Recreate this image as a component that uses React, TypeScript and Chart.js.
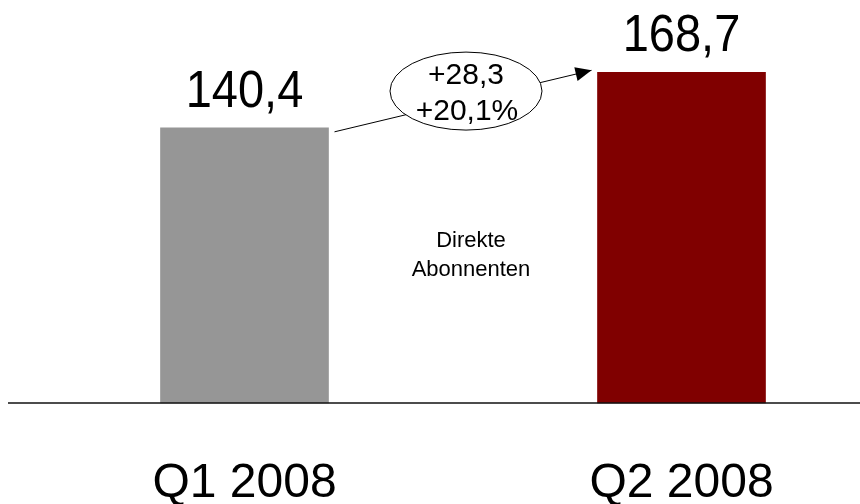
import React, { useEffect, useRef } from "react";
import { Chart, registerables } from "chart.js";

Chart.register(...registerables);

// Direkte Abonnenten, in Tausend
const quarters = ["Q1 2008", "Q2 2008"];
const subscribers = [140.4, 168.7];
const valueLabels = ["140,4", "168,7"];
const changeLabels = ["+28,3", "+20,1%"];
const segmentLabel = ["Direkte", "Abonnenten"];
const barColors = ["#969696", "#800000"];

const FONT = '"Liberation Sans", Arial, Helvetica, sans-serif';

const overlayPlugin = {
  id: "overlay",
  afterDatasetsDraw(chart: any) {
    const ctx = chart.ctx as CanvasRenderingContext2D;
    const meta = chart.getDatasetMeta(0);
    const yScale = chart.scales.y;
    const zeroY = yScale.getPixelForValue(0);
    const bars = meta.data.map((el: any) => el.getProps(["x", "y", "width"], true));

    ctx.save();

    // baseline across the full width
    ctx.strokeStyle = "#111";
    ctx.lineWidth = 1.5;
    ctx.beginPath();
    ctx.moveTo(8, zeroY);
    ctx.lineTo(chart.width, zeroY);
    ctx.stroke();

    // value labels above the bars (slightly tall lettering)
    ctx.fillStyle = "#000";
    ctx.textAlign = "center";
    ctx.textBaseline = "alphabetic";
    ctx.font = `47px ${FONT}`;
    const stretch = 1.09;
    bars.forEach((b: any, i: number) => {
      ctx.save();
      ctx.translate(b.x, b.y - 21);
      ctx.scale(1, stretch);
      ctx.fillText(valueLabels[i], 0, 0);
      ctx.restore();
    });

    // quarter labels under the baseline
    ctx.font = `48px ${FONT}`;
    bars.forEach((b: any, i: number) => {
      ctx.fillText(quarters[i], b.x, zeroY + 94);
    });

    // growth arrow from the first bar to the second
    const b0 = bars[0];
    const b1 = bars[1];
    const sx = b0.x + b0.width / 2 + 6;
    const sy = b0.y + 4;
    const ex = b1.x - b1.width / 2 - 6;
    const ey = b1.y - 2;
    ctx.strokeStyle = "#000";
    ctx.lineWidth = 1;
    ctx.beginPath();
    ctx.moveTo(sx, sy);
    ctx.lineTo(ex, ey);
    ctx.stroke();
    const ang = Math.atan2(ey - sy, ex - sx);
    const hl = 16;
    const hw = 7;
    ctx.beginPath();
    ctx.moveTo(ex, ey);
    ctx.lineTo(
      ex - hl * Math.cos(ang) + hw * Math.sin(ang),
      ey - hl * Math.sin(ang) - hw * Math.cos(ang)
    );
    ctx.lineTo(
      ex - hl * Math.cos(ang) - hw * Math.sin(ang),
      ey - hl * Math.sin(ang) + hw * Math.cos(ang)
    );
    ctx.closePath();
    ctx.fillStyle = "#000";
    ctx.fill();

    // change bubble
    const cx = (sx + ex) / 2 + 3;
    const cy = (sy + ey) / 2 - 10;
    ctx.beginPath();
    ctx.ellipse(cx, cy, 76, 39, 0, 0, Math.PI * 2);
    ctx.fillStyle = "#fff";
    ctx.fill();
    ctx.stroke();
    ctx.fillStyle = "#000";
    ctx.font = `30px ${FONT}`;
    ctx.textBaseline = "alphabetic";
    ctx.fillText(changeLabels[0], cx, cy - 7);
    ctx.fillText(changeLabels[1], cx + 1, cy + 29);

    // segment caption between the bars
    ctx.font = `22px ${FONT}`;
    ctx.textBaseline = "middle";
    const mx = (b0.x + b1.x) / 2 + 8;
    ctx.fillText(segmentLabel[0], mx, 241);
    ctx.fillText(segmentLabel[1], mx, 270);

    ctx.restore();
  },
};

export default function App() {
  const canvasRef = useRef<HTMLCanvasElement | null>(null);

  useEffect(() => {
    if (!canvasRef.current) return;
    const chart = new Chart(canvasRef.current, {
      type: "bar",
      data: {
        labels: quarters,
        datasets: [
          {
            data: subscribers,
            backgroundColor: barColors,
            borderWidth: 0,
            barThickness: 168,
            clip: false as any,
          },
        ],
      },
      options: {
        animation: false,
        responsive: false,
        maintainAspectRatio: false,
        layout: {
          padding: { left: 244.5, right: 178.5, top: 11, bottom: 101 },
        },
        plugins: {
          legend: { display: false },
          tooltip: { enabled: false },
        },
        scales: {
          x: {
            display: false,
            offset: false,
            grid: { display: false },
          },
          y: {
            display: false,
            min: 0,
            max: 200,
            grid: { display: false },
          },
        },
      },
      plugins: [overlayPlugin],
    });
    return () => chart.destroy();
  }, []);

  return (
    <div
      style={{
        position: "fixed",
        left: 0,
        top: 0,
        width: 860,
        height: 504,
        background: "#fff",
      }}
    >
      <canvas ref={canvasRef} width={860} height={504} style={{ display: "block" }} />
    </div>
  );
}
